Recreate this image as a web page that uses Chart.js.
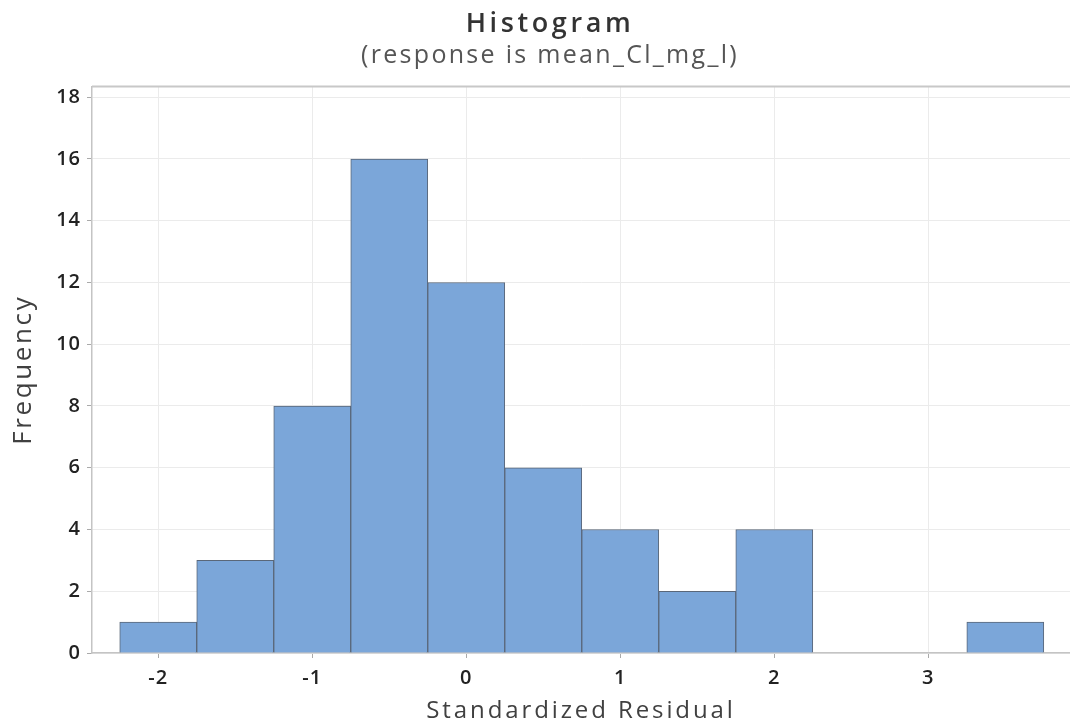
<!DOCTYPE html>
<html>
<head>
<meta charset="utf-8">
<script src="https://cdn.jsdelivr.net/npm/chart.js@4"></script>
<style>
  html, body { margin: 0; padding: 0; background: #fff; }
  #wrap { width: 1070px; height: 727px; }
</style>
</head>
<body>
<div id="wrap"><canvas id="hist-chart"></canvas></div>
<script>
// bin midpoints (width 0.5) and counts
const binCenters = [-2, -1.5, -1, -0.5, 0, 0.5, 1, 1.5, 2, 2.5, 3, 3.5];
const frequencies = [1, 3, 8, 16, 12, 6, 4, 2, 4, 0, 0, 1];
const xTicks = [-2, -1, 0, 1, 2, 3];
const yTicks = [0, 2, 4, 6, 8, 10, 12, 14, 16, 18];

const FONT = "'Open Sans', 'Noto Sans', sans-serif";

// the reference text is set quite loosely, so widen the letter spacing
// (dx nudges the heading, which sits a little right of the canvas centre)
function spaced(obj, method, px, dx) {
    obj._spaced = obj._spaced || {};
    if (obj._spaced[method]) return;
    const orig = obj[method];
    obj[method] = function () {
        const ctx = this.ctx;
        ctx.save();
        ctx.letterSpacing = px + 'px';
        if (dx) ctx.translate(dx, 0);
        orig.apply(this, arguments);
        ctx.restore();
    };
    obj._spaced[method] = true;
}

const looseText = {
    id: 'looseText',
    afterLayout(chart) {
        chart.boxes.forEach(box => {
            if (box === chart.titleBlock) {
                spaced(box, 'draw', 3.6, 15);
            } else if (box.options && typeof box.options.text === 'string') {
                spaced(box, 'draw', 2.3, 15); // subtitle
            }
        });
        spaced(chart.scales.x, 'drawTitle', 2.9);
        spaced(chart.scales.y, 'drawTitle', 2.6);
        spaced(chart.scales.x, 'drawLabels', 1);
        spaced(chart.scales.y, 'drawLabels', 1);
    }
};

// thin frame line along the top of the plot area
const topFrame = {
    id: 'topFrame',
    afterDraw(chart) {
        const { ctx, chartArea } = chart;
        ctx.save();
        ctx.strokeStyle = '#c8c8c8';
        ctx.lineWidth = 2;
        ctx.beginPath();
        ctx.moveTo(chartArea.left, chartArea.top);
        ctx.lineTo(chartArea.right, chartArea.top);
        ctx.stroke();
        ctx.restore();
    }
};

function createHistogram() {
    const ctx = document.getElementById('hist-chart').getContext('2d');
    new Chart(ctx, {
        type: 'bar',
        data: {
            datasets: [{
                data: binCenters.map((x, i) => ({ x: x, y: frequencies[i] })),
                backgroundColor: '#7BA6D9',
                borderColor: '#5A6779',
                borderWidth: 1,
                barPercentage: 1,
                categoryPercentage: 1
            }]
        },
        options: {
            responsive: true,
            maintainAspectRatio: false,
            animation: false,
            layout: { padding: 0 },
            plugins: {
                legend: { display: false },
                tooltip: { enabled: false },
                title: {
                    display: true,
                    text: 'Histogram',
                    color: '#333',
                    font: { family: FONT, size: 27, weight: '600' },
                    padding: { top: 8, bottom: 0 }
                },
                subtitle: {
                    display: true,
                    text: '(response is mean_Cl_mg_l)',
                    color: '#555',
                    font: { family: FONT, size: 25 },
                    padding: { top: 0, bottom: 16 }
                }
            },
            scales: {
                x: {
                    type: 'linear',
                    min: -2.43,
                    max: 3.92,
                    offset: false,
                    afterBuildTicks: s => { s.ticks = xTicks.map(v => ({ value: v })); },
                    afterFit: s => { s.height = 74; },
                    grid: {
                        offset: false,
                        color: '#ebebeb',
                        tickColor: '#aaa',
                        tickLength: 5
                    },
                    border: { color: '#c4c4c4', width: 1.5 },
                    ticks: {
                        color: '#222',
                        padding: 8,
                        maxRotation: 0,
                        font: { family: FONT, size: 20, weight: '600' }
                    },
                    title: {
                        display: true,
                        text: 'Standardized Residual',
                        color: '#404040',
                        font: { family: FONT, size: 24, weight: '500' },
                        padding: { top: 0, bottom: 1 }
                    }
                },
                y: {
                    min: 0,
                    max: 18.35,
                    afterBuildTicks: s => { s.ticks = yTicks.map(v => ({ value: v })); },
                    afterFit: s => { s.width = 92; },
                    grid: {
                        color: '#ebebeb',
                        tickColor: '#aaa',
                        tickLength: 5
                    },
                    border: { color: '#c4c4c4', width: 1.5 },
                    ticks: {
                        color: '#222',
                        padding: 6,
                        font: { family: FONT, size: 20, weight: '600' }
                    },
                    title: {
                        display: true,
                        text: 'Frequency',
                        color: '#404040',
                        font: { family: FONT, size: 26, weight: '500' },
                        padding: { top: 8, bottom: 0 }
                    }
                }
            }
        },
        plugins: [looseText, topFrame]
    });
}

createHistogram();
</script>
</body>
</html>
